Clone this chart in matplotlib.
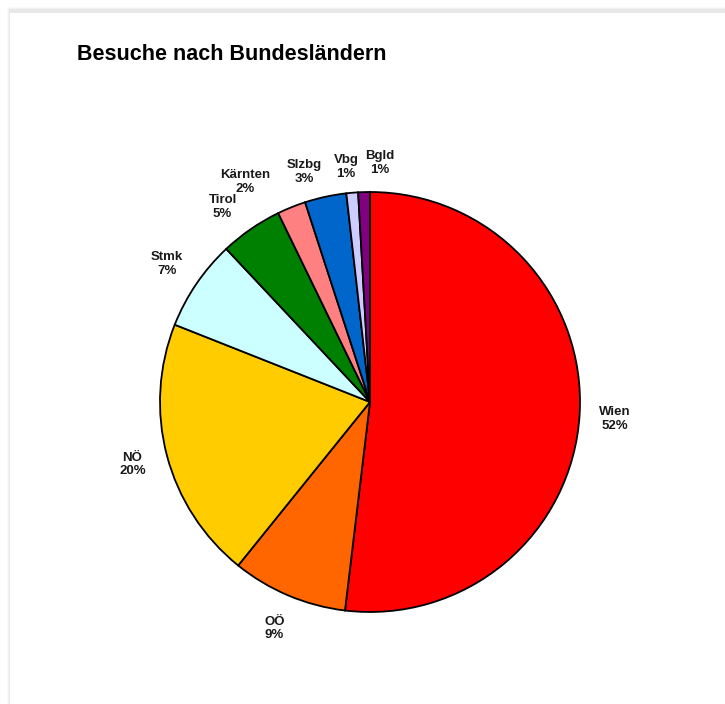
import numpy as np
import matplotlib
matplotlib.use("Agg")
import matplotlib.pyplot as plt
from matplotlib.patches import Rectangle

plt.rcParams['font.family'] = ['Liberation Sans', 'DejaVu Sans']

title = "Besuche nach Bundesländern"
categories = ["Wien", "OÖ", "NÖ", "Stmk", "Tirol", "Kärnten", "Slzbg", "Vbg", "Bgld"]
values = [51.9, 8.9, 20.2, 7.0, 4.8, 2.2, 3.2, 0.9, 0.9]
colors = ["#FF0000", "#FF6600", "#FFCC00", "#CCFFFF", "#008000",
          "#FF8080", "#0066CC", "#CCCCFF", "#800080"]

# label nudges (pixels, +x right, +y down) to spread crowded small-slice labels
label_nudge = {"Tirol": (-8, 7), "Kärnten": (-33, 8), "Slzbg": (-14, 10),
               "Vbg": (-3, 10), "Bgld": (17, 7), "Wien": (0, 2)}

W, H = 725, 704
fig = plt.figure(figsize=(W / 100, H / 100), dpi=100)
fig.patch.set_facecolor("white")

# card with soft shadow
for i, a in enumerate([0.02, 0.03, 0.04]):
    off = 3 - i
    fig.patches.append(Rectangle(((10 - off) / W, 0), 1, (H - 10 + off) / H,
                                 transform=fig.transFigure, facecolor=(0, 0, 0, a),
                                 edgecolor="none", zorder=0))
fig.patches.append(Rectangle((10 / W, 0), 1, (H - 13) / H, transform=fig.transFigure,
                             facecolor="white", edgecolor="none", zorder=0.5))

cx, cy, r, half = 370, 402, 210, 300
ax = fig.add_axes([(cx - half) / W, (H - cy - half) / H, 2 * half / W, 2 * half / H])
ax.set_zorder(2)
ax.axis("off")
ax.patch.set_alpha(0)

wedges, _ = ax.pie(values, colors=colors, startangle=90, counterclock=False,
                   radius=1.0, wedgeprops=dict(edgecolor="black", linewidth=1.3),
                   normalize=True)
ax.set_xlim(-half / r, half / r)
ax.set_ylim(-half / r, half / r)
ax.set_aspect("auto")

for w, cat, v in zip(wedges, categories, values):
    ang = np.deg2rad((w.theta1 + w.theta2) / 2)
    d = 1.17
    nx, ny = label_nudge.get(cat, (0, 0))
    ax.annotate(f"{cat}\n{round(v):d}%", xy=(d * np.cos(ang), d * np.sin(ang)),
                xytext=(nx * 0.72, -ny * 0.72), textcoords="offset points",
                ha="center", va="center", fontsize=9.5, fontweight="bold",
                linespacing=1.2, color="#1a1a1a")

t = fig.text(77 / W, 1 - 55 / H, title, ha="left", va="center",
             fontsize=15.5, fontweight="bold", color="black")
t.set_zorder(3)

fig.savefig("out.png", dpi=100)
